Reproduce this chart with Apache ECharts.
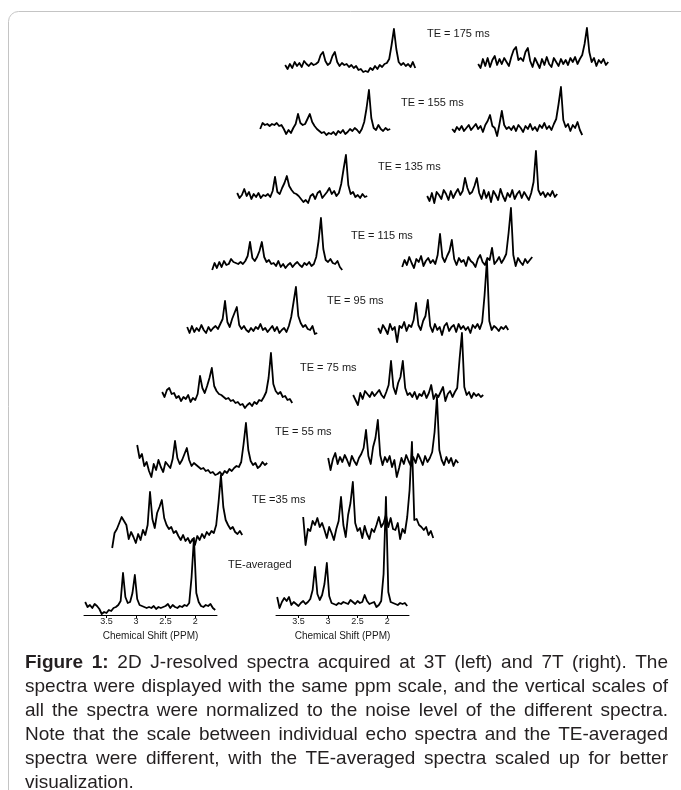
<!DOCTYPE html>
<html>
<head>
<meta charset="utf-8">
<title>2D J-resolved spectra</title>
<script src="https://cdn.jsdelivr.net/npm/echarts@6/dist/echarts.min.js"></script>
<style>
  html, body { margin: 0; padding: 0; background: #fff; }
  #chart { position: absolute; left: 0; top: 0; width: 681px; height: 790px; }
  #caption {
    position: absolute; left: 25px; top: 650px; width: 643px;
    font-family: 'Liberation Sans', Arial, sans-serif; font-size: 19px;
    line-height: 24px; color: #231f20;
  }
  #caption div { text-align: justify; text-align-last: justify; }
  #caption div.last { text-align-last: left; }
</style>
</head>
<body>
<div id="chart"></div>
<div id="caption">
  <div><b>Figure 1:</b> 2D J-resolved spectra acquired at 3T (left) and 7T (right). The</div>
  <div>spectra were displayed with the same ppm scale, and the vertical scales of</div>
  <div>all the spectra were normalized to the noise level of the different spectra.</div>
  <div>Note that the scale between individual echo spectra and the TE-averaged</div>
  <div>spectra were different, with the TE-averaged spectra scaled up for better</div>
  <div class="last">visualization.</div>
</div>
<script>
// chemical shift of every sample point (ppm, high to low)
const ppm = [3.86, 3.82, 3.78, 3.74, 3.70, 3.66, 3.62, 3.58, 3.54, 3.50,
             3.46, 3.42, 3.38, 3.34, 3.30, 3.26, 3.22, 3.18, 3.14, 3.10,
             3.06, 3.02, 2.98, 2.94, 2.90, 2.86, 2.82, 2.78, 2.74, 2.70,
             2.66, 2.62, 2.58, 2.54, 2.50, 2.46, 2.42, 2.38, 2.34, 2.30,
             2.26, 2.22, 2.18, 2.14, 2.10, 2.06, 2.02, 1.98, 1.94, 1.90,
             1.86, 1.82, 1.78, 1.74, 1.70, 1.66];

const teLabels = ['TE = 175 ms', 'TE = 155 ms', 'TE = 135 ms', 'TE = 115 ms', 'TE = 95 ms',
                  'TE = 75 ms', 'TE = 55 ms', 'TE =35 ms', 'TE-averaged'];

const ppmTicks = [3.5, 3, 2.5, 2];

// 3T spectra (left column), signal in noise-normalised units
const spec3T_175 = [2,-2,3,-1,5,1,4,0,6,3, 1,4,2,3,5,12,15,6,2,4, 11,15,5,1,4,2,3,0,2,-1, 1,-3,-2,-5,-4,-5,-1,-3,1,-2, 2,0,3,4,8,22,38,18,5,2, 4,1,3,0,5,-1];
const spec3T_155 = [3,9,7,8,6,8,7,9,6,7, 3,-2,2,-1,4,8,18,9,7,8, 13,18,10,6,3,1,-1,0,-3,-1, -2,0,-3,1,-1,2,-2,0,3,1, 4,2,-1,3,10,24,42,14,4,2, 7,3,1,4,2,3];
const spec3T_135 = [4,-1,2,8,1,5,-2,3,0,4, -1,2,1,3,0,6,20,5,3,9, 14,21,11,7,4,3,1,-2,-5,-3, -6,1,3,-2,4,6,-1,2,5,9, 3,6,1,4,13,28,42,12,3,5, 0,2,-1,3,0,1];
const spec3T_115 = [-5,2,-3,3,-2,4,0,1,6,3, 2,1,3,1,4,9,23,7,4,8, 14,23,8,3,5,1,2,-1,4,-2, 1,-3,0,2,-2,1,3,0,-2,2, 0,3,-1,1,8,24,47,16,5,3, 6,2,1,4,-2,-5];
const spec3T_95  = [4,-2,5,-1,3,0,6,1,-2,4, 0,3,5,2,7,12,30,9,4,12, 18,24,6,2,5,1,-1,3,0,4, 2,7,1,3,-1,2,5,0,4,-2, 1,3,-1,5,14,29,44,15,8,4, 6,2,1,5,-3,-2];
const spec3T_75  = [8,3,10,12,6,7,2,4,-1,3, 1,5,-2,2,0,6,24,12,7,14, 22,32,14,9,6,5,3,1,2,-1, 0,-3,-2,-5,-4,-8,-5,-3,-6,-2, -4,0,-1,3,8,22,47,16,9,6, 8,3,4,0,1,-3];
const spec3T_55  = [23,10,14,2,6,-3,-9,4,-2,8, 1,-4,6,3,0,9,27,10,4,8, 14,20,8,2,5,3,1,-1,0,-3, -2,-5,-4,-7,-6,-4,-7,-3,-5,-1, -3,0,2,1,6,24,45,18,7,3, 5,0,2,6,3,5];
const spec3T_35  = [-11,4,8,14,20,16,12,-2,5,0, -6,3,-3,7,2,12,45,18,9,24, 30,37,19,12,8,10,4,6,1,-3, 2,-4,-1,-6,-2,-8,1,-3,3,-1, 5,2,6,4,12,35,62,30,17,12, 8,10,5,3,6,2];
const spec3T_avg = [5,0,2,-1,3,1,-2,-7,-5,-6, -3,-4,-1,0,2,6,34,10,4,5, 14,32,8,2,1,0,-1,0,-1,1, -2,0,-1,0,1,3,-1,2,0,-1, 1,0,2,1,4,30,69,14,5,1, 0,2,1,3,-1,-3];

// 7T spectra (right column)
const spec7T_175 = [0,-4,5,-2,6,-3,4,8,-1,5, 0,6,2,-2,7,14,17,4,6,3, 12,16,3,-3,6,1,-4,5,-1,7, 0,-3,6,2,-2,5,0,4,-1,6, 2,7,0,5,9,20,36,12,2,6, -2,4,1,5,-1,2];
const spec7T_155 = [1,-2,3,0,4,-1,2,5,0,3, 6,1,4,-2,5,9,15,4,2,-6, 6,19,5,1,3,0,4,-1,5,2, -2,4,1,6,0,3,-1,5,2,7, 1,4,0,6,11,26,43,10,3,6, -1,5,2,8,0,-5];
const spec7T_135 = [0,-5,3,-7,4,1,-3,6,2,-4, 5,-2,3,7,1,5,18,8,2,4, 10,18,3,-3,6,-2,4,-6,5,1, -4,7,0,-5,3,-1,6,-3,2,5, -2,4,0,-4,3,14,45,6,1,4, -1,3,0,5,-1,2];
const spec7T_115 = [-4,3,-2,6,0,-5,4,1,7,-3, 2,5,0,3,-1,8,29,6,1,7, 12,23,4,-2,5,1,3,-3,6,2, 0,-4,4,8,1,-2,5,3,15,-1, 2,6,0,4,9,30,55,8,-3,5, 1,-2,4,0,3,6];
const spec7T_95  = [2,-3,5,1,-4,6,0,3,-12,4, 2,8,-1,5,3,10,27,5,0,9, 14,30,4,-2,6,0,3,-5,4,7, -1,3,5,-2,6,1,4,0,3,-3, 5,2,6,1,8,35,70,9,0,4, 2,-1,3,1,4,0];
const spec7T_75  = [2,-3,-8,4,-2,6,3,0,5,1, 4,7,2,-1,5,12,36,10,3,14, 20,36,9,2,4,0,5,-2,3,1, 6,-1,4,12,-2,3,0,5,10,-4, 3,6,0,5,9,38,64,10,2,5, -1,4,1,3,0,2];
const spec7T_55  = [4,-8,3,9,-2,5,0,7,2,-4, 6,1,-3,4,8,14,32,6,-2,15, 24,42,7,-3,5,0,6,-5,2,-15, -6,4,-2,7,1,-4,5,-1,8,3, -3,6,0,4,10,30,65,12,2,-3, 5,-1,4,-4,2,-1];
const spec7T_35  = [18,-10,6,4,14,10,17,8,12,5, -3,8,2,-5,6,14,38,10,-2,20, 32,53,12,4,7,-3,9,1,-4,6, 3,10,18,8,12,20,8,17,6,5, 12,-4,6,2,18,45,93,15,16,10, 8,5,8,0,4,-3];
const spec7T_avg = [7,-4,2,6,3,7,-1,2,0,-2, 1,3,0,2,5,14,37,10,4,9, 20,41,8,1,0,-1,1,0,2,1, 0,4,2,0,3,1,2,9,3,0, 1,2,-3,-1,3,30,107,12,2,1, 0,-1,1,0,1,-2];

const spectra3T = [spec3T_175, spec3T_155, spec3T_135, spec3T_115, spec3T_95, spec3T_75, spec3T_55, spec3T_35, spec3T_avg];
const spectra7T = [spec7T_175, spec7T_155, spec7T_135, spec7T_115, spec7T_95, spec7T_75, spec7T_55, spec7T_35, spec7T_avg];

// page layout: label [x, y], left / right spectrum [x start, baseline y]
const rowPos = [
  { label: [427, 34],  left: [285, 67],  right: [478, 64] },
  { label: [401, 103], left: [260, 132], right: [452, 130] },
  { label: [378, 167], left: [237, 197], right: [427, 196] },
  { label: [351, 236], left: [212, 265], right: [402, 263] },
  { label: [327, 301], left: [187, 331], right: [378, 330] },
  { label: [300, 368], left: [162, 400], right: [353, 397] },
  { label: [275, 432], left: [137, 468], right: [328, 462] },
  { label: [252, 500], left: [112, 537], right: [303, 535] },
  { label: [228, 565], left: [85, 607],  right: [277, 604] }
];
const AXIS_Y = 615;
const FONT = "'Liberation Sans', Arial, sans-serif";

const chart = echarts.init(document.getElementById('chart'));

const grids = [], xAxes = [], yAxes = [], series = [];
const graphics = [{
  type: 'rect',
  shape: { x: 8.5, y: 11.5, width: 720, height: 820, r: 10 },
  style: { fill: 'none', stroke: '#c4c4c4', lineWidth: 1 },
  silent: true
}];

rowPos.forEach(function (row, r) {
  const isAvg = r === rowPos.length - 1;
  [[spectra3T[r], row.left], [spectra7T[r], row.right]].forEach(function (pair) {
    const vals = pair[0], pos = pair[1];
    const k = grids.length;
    const yMin = isAvg ? pos[1] - AXIS_Y : -20;
    const yMax = yMin + 80;
    grids.push({ left: pos[0] - 1, top: pos[1] - yMax, width: 133, height: 80 });
    xAxes.push({
      gridIndex: k, type: 'value', min: 1.63, max: 3.88, inverse: true,
      show: isAvg,
      axisLine: { show: true, onZero: false, lineStyle: { color: '#000', width: 1 } },
      axisTick: { show: true, customValues: ppmTicks, length: 3, lineStyle: { color: '#000' } },
      axisLabel: { show: true, customValues: ppmTicks, fontSize: 9, margin: 2, color: '#1a1a1a', fontFamily: FONT },
      splitLine: { show: false },
      name: 'Chemical Shift (PPM)', nameLocation: 'middle', nameGap: 16,
      nameTextStyle: { fontSize: 10, color: '#1a1a1a', fontFamily: FONT }
    });
    yAxes.push({ gridIndex: k, type: 'value', min: yMin, max: yMax, show: false });
    series.push({
      type: 'line', xAxisIndex: k, yAxisIndex: k,
      data: ppm.map(function (p, i) { return [p, vals[i]]; }),
      symbol: 'none', clip: false, silent: true,
      lineStyle: { color: '#000', width: 1.8, join: 'round' }
    });
  });
  graphics.push({
    type: 'text', x: row.label[0], y: row.label[1], silent: true,
    style: { text: teLabels[r], fill: '#1a1a1a', font: '11px ' + FONT, textVerticalAlign: 'middle' }
  });
});

chart.setOption({
  animation: false,
  backgroundColor: 'transparent',
  grid: grids,
  xAxis: xAxes,
  yAxis: yAxes,
  series: series,
  graphic: graphics
});

window.addEventListener('resize', function () { chart.resize(); });
</script>
</body>
</html>
